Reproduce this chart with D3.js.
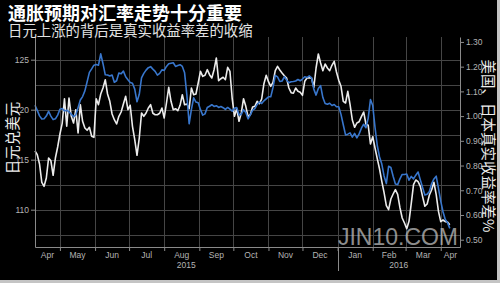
<!DOCTYPE html>
<html><head><meta charset="utf-8">
<script src="https://cdn.jsdelivr.net/npm/d3@7"></script>
<style>html,body{margin:0;padding:0;background:#000;}svg{display:block;}</style>
</head><body>
<svg id="chart" width="500" height="283"></svg>
<script>
// ---------- data ----------
const titleText = "通胀预期对汇率走势十分重要";
const subtitleText = "日元上涨的背后是真实收益率差的收缩";
const leftAxisTitle = "日元兑美元";
const rightAxisTitle = "美国、日本真实收益率差%";
const watermarkText = "JIN10.COM";

const dates = [
"2015-04-09","2015-04-11","2015-04-13","2015-04-15","2015-04-17","2015-04-19","2015-04-21","2015-04-23","2015-04-25","2015-04-27","2015-04-29",
"2015-05-01","2015-05-03","2015-05-05","2015-05-07","2015-05-09","2015-05-11","2015-05-13","2015-05-15","2015-05-17","2015-05-19","2015-05-21","2015-05-23","2015-05-25","2015-05-27","2015-05-29","2015-05-31",
"2015-06-02","2015-06-04","2015-06-06","2015-06-08","2015-06-10","2015-06-12","2015-06-14","2015-06-16","2015-06-18","2015-06-20","2015-06-22","2015-06-24","2015-06-26","2015-06-28","2015-06-30",
"2015-07-02","2015-07-04","2015-07-06","2015-07-08","2015-07-10","2015-07-12","2015-07-14","2015-07-16","2015-07-18","2015-07-20","2015-07-22","2015-07-24","2015-07-26","2015-07-28","2015-07-30",
"2015-08-01","2015-08-03","2015-08-05","2015-08-07","2015-08-09","2015-08-11","2015-08-13","2015-08-15","2015-08-17","2015-08-19","2015-08-21","2015-08-23","2015-08-25","2015-08-27","2015-08-29","2015-08-31",
"2015-09-02","2015-09-04","2015-09-06","2015-09-08","2015-09-10","2015-09-12","2015-09-14","2015-09-16","2015-09-18","2015-09-20","2015-09-22","2015-09-24","2015-09-26","2015-09-28","2015-09-30",
"2015-10-02","2015-10-04","2015-10-06","2015-10-08","2015-10-10","2015-10-12","2015-10-14","2015-10-16","2015-10-18","2015-10-20","2015-10-22","2015-10-24","2015-10-26","2015-10-28","2015-10-30",
"2015-11-01","2015-11-03","2015-11-05","2015-11-07","2015-11-09","2015-11-11","2015-11-13","2015-11-15","2015-11-17","2015-11-19","2015-11-21","2015-11-23","2015-11-25","2015-11-27","2015-11-29",
"2015-12-01","2015-12-03","2015-12-05","2015-12-07","2015-12-09","2015-12-11","2015-12-13","2015-12-15","2015-12-17","2015-12-19","2015-12-21","2015-12-23","2015-12-25","2015-12-27","2015-12-29","2015-12-31",
"2016-01-02","2016-01-04","2016-01-06","2016-01-08","2016-01-10","2016-01-12","2016-01-14","2016-01-16","2016-01-18","2016-01-20","2016-01-22","2016-01-24","2016-01-26","2016-01-28","2016-01-30",
"2016-02-01","2016-02-03","2016-02-05","2016-02-07","2016-02-09","2016-02-11","2016-02-13","2016-02-15","2016-02-17","2016-02-19","2016-02-21","2016-02-23","2016-02-25","2016-02-27","2016-02-29",
"2016-03-02","2016-03-04","2016-03-06","2016-03-08","2016-03-10","2016-03-12","2016-03-14","2016-03-16","2016-03-18","2016-03-20","2016-03-22","2016-03-24","2016-03-26","2016-03-28","2016-03-30",
"2016-04-01","2016-04-03","2016-04-05","2016-04-07","2016-04-09"
];

// 日元兑美元 (left axis, white line)
const usdJpy = [
115.87,115.50,114.57,112.74,112.34,113.17,115.17,114.90,113.44,115.17,
116.27,117.57,118.64,121.10,118.34,121.17,119.34,118.67,120.00,117.67,
120.50,118.84,118.17,117.94,118.24,117.34,117.24,121.10,120.50,121.57,
122.17,123.00,121.57,120.84,119.57,119.00,118.57,119.34,119.77,120.57,
121.34,120.00,120.44,118.34,117.00,115.44,117.17,119.67,119.34,119.67,
120.17,120.50,119.64,119.50,119.50,119.64,120.17,119.17,120.67,122.24,
120.84,120.00,120.10,119.90,120.44,121.50,120.50,120.57,120.10,122.17,
121.50,121.57,122.67,123.84,123.34,123.44,124.00,123.50,123.17,124.00,
125.17,122.90,123.10,123.24,123.00,124.24,123.84,121.10,119.34,120.10,
118.84,119.67,121.10,120.34,119.30,119.50,120.27,120.34,120.84,120.60,
121.07,122.60,123.44,122.80,122.34,122.74,123.90,124.34,123.97,123.67,
123.40,123.17,122.17,121.70,121.64,122.17,121.84,121.74,121.44,122.84,
123.17,123.20,123.17,122.24,124.17,125.57,124.67,123.90,124.57,124.17,
123.90,124.44,124.84,123.77,122.94,122.34,120.84,120.67,121.84,120.50,
118.97,118.24,118.67,118.80,119.30,119.77,118.57,118.44,116.57,117.30,
116.17,115.10,114.07,112.84,111.70,110.40,110.00,111.07,111.57,112.00,
111.54,110.20,109.17,108.67,108.10,108.84,110.64,112.50,112.97,112.80,
112.34,111.30,110.34,110.57,111.47,112.00,112.74,111.50,109.84,108.80,
108.97,108.80,108.77,108.50
];

// 美国、日本真实收益率差 % (right axis, blue line)
const realYieldSpread = [
1.044,1.023,1.001,0.988,0.989,1.000,1.019,1.000,0.986,0.989,
1.004,1.028,1.031,1.021,1.024,1.017,1.008,0.998,1.005,1.034,
1.065,1.079,1.102,1.139,1.177,1.191,1.206,1.209,1.206,1.252,
1.212,1.167,1.166,1.162,1.166,1.137,1.143,1.174,1.171,1.182,
1.159,1.147,1.136,1.133,1.109,1.058,1.088,1.155,1.173,1.186,
1.196,1.200,1.190,1.181,1.166,1.173,1.187,1.185,1.201,1.212,
1.214,1.216,1.201,1.205,1.208,1.201,1.175,1.085,0.969,1.027,
1.074,1.057,1.054,1.026,1.004,1.009,1.035,1.040,1.046,1.039,
1.042,1.035,1.039,1.034,1.027,1.035,1.028,1.020,1.032,1.035,
1.005,1.007,1.026,1.015,0.989,1.005,1.024,1.030,1.047,1.057,
1.051,1.062,1.070,1.078,1.078,1.115,1.165,1.159,1.140,1.142,
1.159,1.146,1.135,1.139,1.140,1.142,1.148,1.143,1.150,1.159,
1.156,1.163,1.155,1.109,1.085,1.112,1.123,1.075,1.051,1.048,
1.052,1.043,1.047,1.038,1.038,1.007,0.965,0.924,0.927,0.932,
0.915,0.930,0.912,0.928,0.951,0.967,0.953,0.992,1.067,1.043,
0.955,0.881,0.835,0.806,0.758,0.727,0.797,0.792,0.757,0.725,
0.723,0.746,0.764,0.764,0.766,0.741,0.756,0.746,0.761,0.774,
0.742,0.711,0.681,0.684,0.695,0.727,0.746,0.757,0.708,0.656,
0.613,0.582,0.569,0.546
];

const xDomain = ["2015-04-09","2016-04-18"];
const leftDomain = [106.27, 127.27];
const rightDomain = [0.4705, 1.320];
const leftTicks = [110, 115, 120, 125];
const leftGrid = [107.5, 110, 112.5, 115, 117.5, 120, 122.5, 125];
const rightTicks = [0.5, 0.6, 0.7, 0.8, 0.9, 1.0, 1.1, 1.2, 1.3];
const yearLabels = ["2015", "2016"];

// ---------- drawing ----------
const svg = d3.select("#chart");
const W = 500, H = 283;
const P = {l: 35, r: 460, t: 37, b: 247};
const parse = d3.utcParse("%Y-%m-%d");
const dd = dates.map(parse);

svg.append("rect").attr("width", W).attr("height", H).attr("fill", "#000");

const x = d3.scaleUtc().domain(xDomain.map(parse)).range([P.l, P.r]);
const yL = d3.scaleLinear().domain(leftDomain).range([P.b, P.t]);
const yR = d3.scaleLinear().domain(rightDomain).range([P.b, P.t]);

const monthStarts = d3.utcMonth.range(d3.utcMonth.ceil(x.domain()[0]), x.domain()[1]);

// grid
const grid = svg.append("g").attr("stroke", "#454545").attr("stroke-width", 1);
grid.selectAll("line.h").data(leftGrid).join("line")
  .attr("x1", P.l).attr("x2", P.r)
  .attr("y1", d => Math.round(yL(d)) + 0.5).attr("y2", d => Math.round(yL(d)) + 0.5);
grid.selectAll("line.v").data(monthStarts).join("line")
  .attr("x1", d => Math.round(x(d)) + 0.5).attr("x2", d => Math.round(x(d)) + 0.5)
  .attr("y1", P.t).attr("y2", P.b);

// watermark (semi-transparent, kept just above the month labels)
svg.append("text").attr("x", 338).attr("y", 245)
  .attr("textLength", 120).attr("lengthAdjust", "spacingAndGlyphs")
  .attr("fill", "#c4c4c4").attr("opacity", 0.72)
  .style("font-family", "'Liberation Sans Narrow', 'Liberation Sans', Arial, sans-serif")
  .style("font-size", "23px").text(watermarkText);

// lines
const series = dd.map((d, i) => ({date: d, jpy: usdJpy[i], spr: realYieldSpread[i]}));
svg.append("path").datum(series)
  .attr("fill", "none").attr("stroke", "#ececec").attr("stroke-width", 1.6)
  .attr("stroke-linejoin", "round")
  .attr("d", d3.line().x(d => x(d.date)).y(d => yL(d.jpy)));
svg.append("path").datum(series)
  .attr("fill", "none").attr("stroke", "#3876cc").attr("stroke-width", 1.6)
  .attr("stroke-linejoin", "round")
  .attr("d", d3.line().x(d => x(d.date)).y(d => yR(d.spr)));

// axes
const axisColor = "#8a8a8a", labelColor = "#b4b4b4";
function styleAxis(g) {
  g.select(".domain").attr("stroke", axisColor);
  g.selectAll(".tick line").attr("stroke", axisColor);
  g.selectAll(".tick text").attr("fill", labelColor)
    .style("font-family", "'Liberation Sans', Arial, sans-serif").style("font-size", "8.5px");
}
svg.append("g").attr("transform", `translate(${P.l},0)`)
  .call(d3.axisLeft(yL).tickValues(leftTicks).tickSize(4).tickSizeOuter(0).tickPadding(2).tickFormat(d3.format("d")))
  .call(styleAxis);
svg.append("g").attr("transform", `translate(${P.r},0)`)
  .call(d3.axisRight(yR).tickValues(rightTicks).tickSize(4).tickSizeOuter(0).tickPadding(2).tickFormat(d3.format(".2f")))
  .call(styleAxis);
svg.append("g").attr("transform", `translate(0,${P.b})`)
  .call(d3.axisBottom(x).tickValues(monthStarts).tickSize(4).tickSizeOuter(0).tickFormat(""))
  .call(styleAxis);

// year divider
const jan1 = monthStarts.find(d => d.getUTCMonth() === 0);
svg.append("line").attr("x1", Math.round(x(jan1)) + 0.5).attr("x2", Math.round(x(jan1)) + 0.5)
  .attr("y1", P.b).attr("y2", 271).attr("stroke", axisColor);

// month labels centred in visible month span
const monthsAll = d3.utcMonth.range(d3.utcMonth.floor(x.domain()[0]), x.domain()[1]);
svg.append("g").selectAll("text").data(monthsAll).join("text")
  .attr("x", d => (Math.max(x(d), P.l) + Math.min(x(d3.utcMonth.offset(d, 1)), P.r)) / 2)
  .attr("y", 257.5).attr("text-anchor", "middle")
  .attr("fill", labelColor)
  .style("font-family", "'Liberation Sans', Arial, sans-serif").style("font-size", "8.5px")
  .text(d3.utcFormat("%b"));

// year labels
svg.append("g").selectAll("text").data(yearLabels).join("text")
  .attr("x", (d, i) => i === 0 ? (P.l + x(jan1)) / 2 : (x(jan1) + P.r) / 2)
  .attr("y", 268).attr("text-anchor", "middle").attr("fill", labelColor)
  .style("font-family", "'Liberation Sans', Arial, sans-serif").style("font-size", "8.5px")
  .text(d => d);

// titles
const cjk = "'Noto Sans CJK SC', 'Noto Sans', sans-serif";
svg.append("text").attr("x", 8).attr("y", 19.5).attr("fill", "#fff")
  .style("font-family", cjk).style("font-weight", "bold").style("font-size", "18px").text(titleText);
svg.append("text").attr("x", 8).attr("y", 35.5).attr("fill", "#e2e2e2")
  .style("font-family", cjk).style("font-size", "14.4px").text(subtitleText);

svg.append("text").attr("transform", "translate(11,138) rotate(-90)")
  .attr("text-anchor", "middle").attr("dominant-baseline", "central").attr("fill", "#eee")
  .style("font-family", cjk).style("font-size", "14.5px").text(leftAxisTitle);
svg.append("text").attr("transform", "translate(489,146) rotate(90)")
  .attr("text-anchor", "middle").attr("dominant-baseline", "central").attr("fill", "#eee")
  .style("font-family", cjk).style("font-size", "14.5px").text(rightAxisTitle);

// frame edges (right / bottom)
svg.append("rect").attr("x", 497).attr("y", 0).attr("width", 3).attr("height", H).attr("fill", "#c4c4c4");
svg.append("rect").attr("x", 0).attr("y", 280).attr("width", W).attr("height", 3).attr("fill", "#c4c4c4");
</script>
</body></html>
